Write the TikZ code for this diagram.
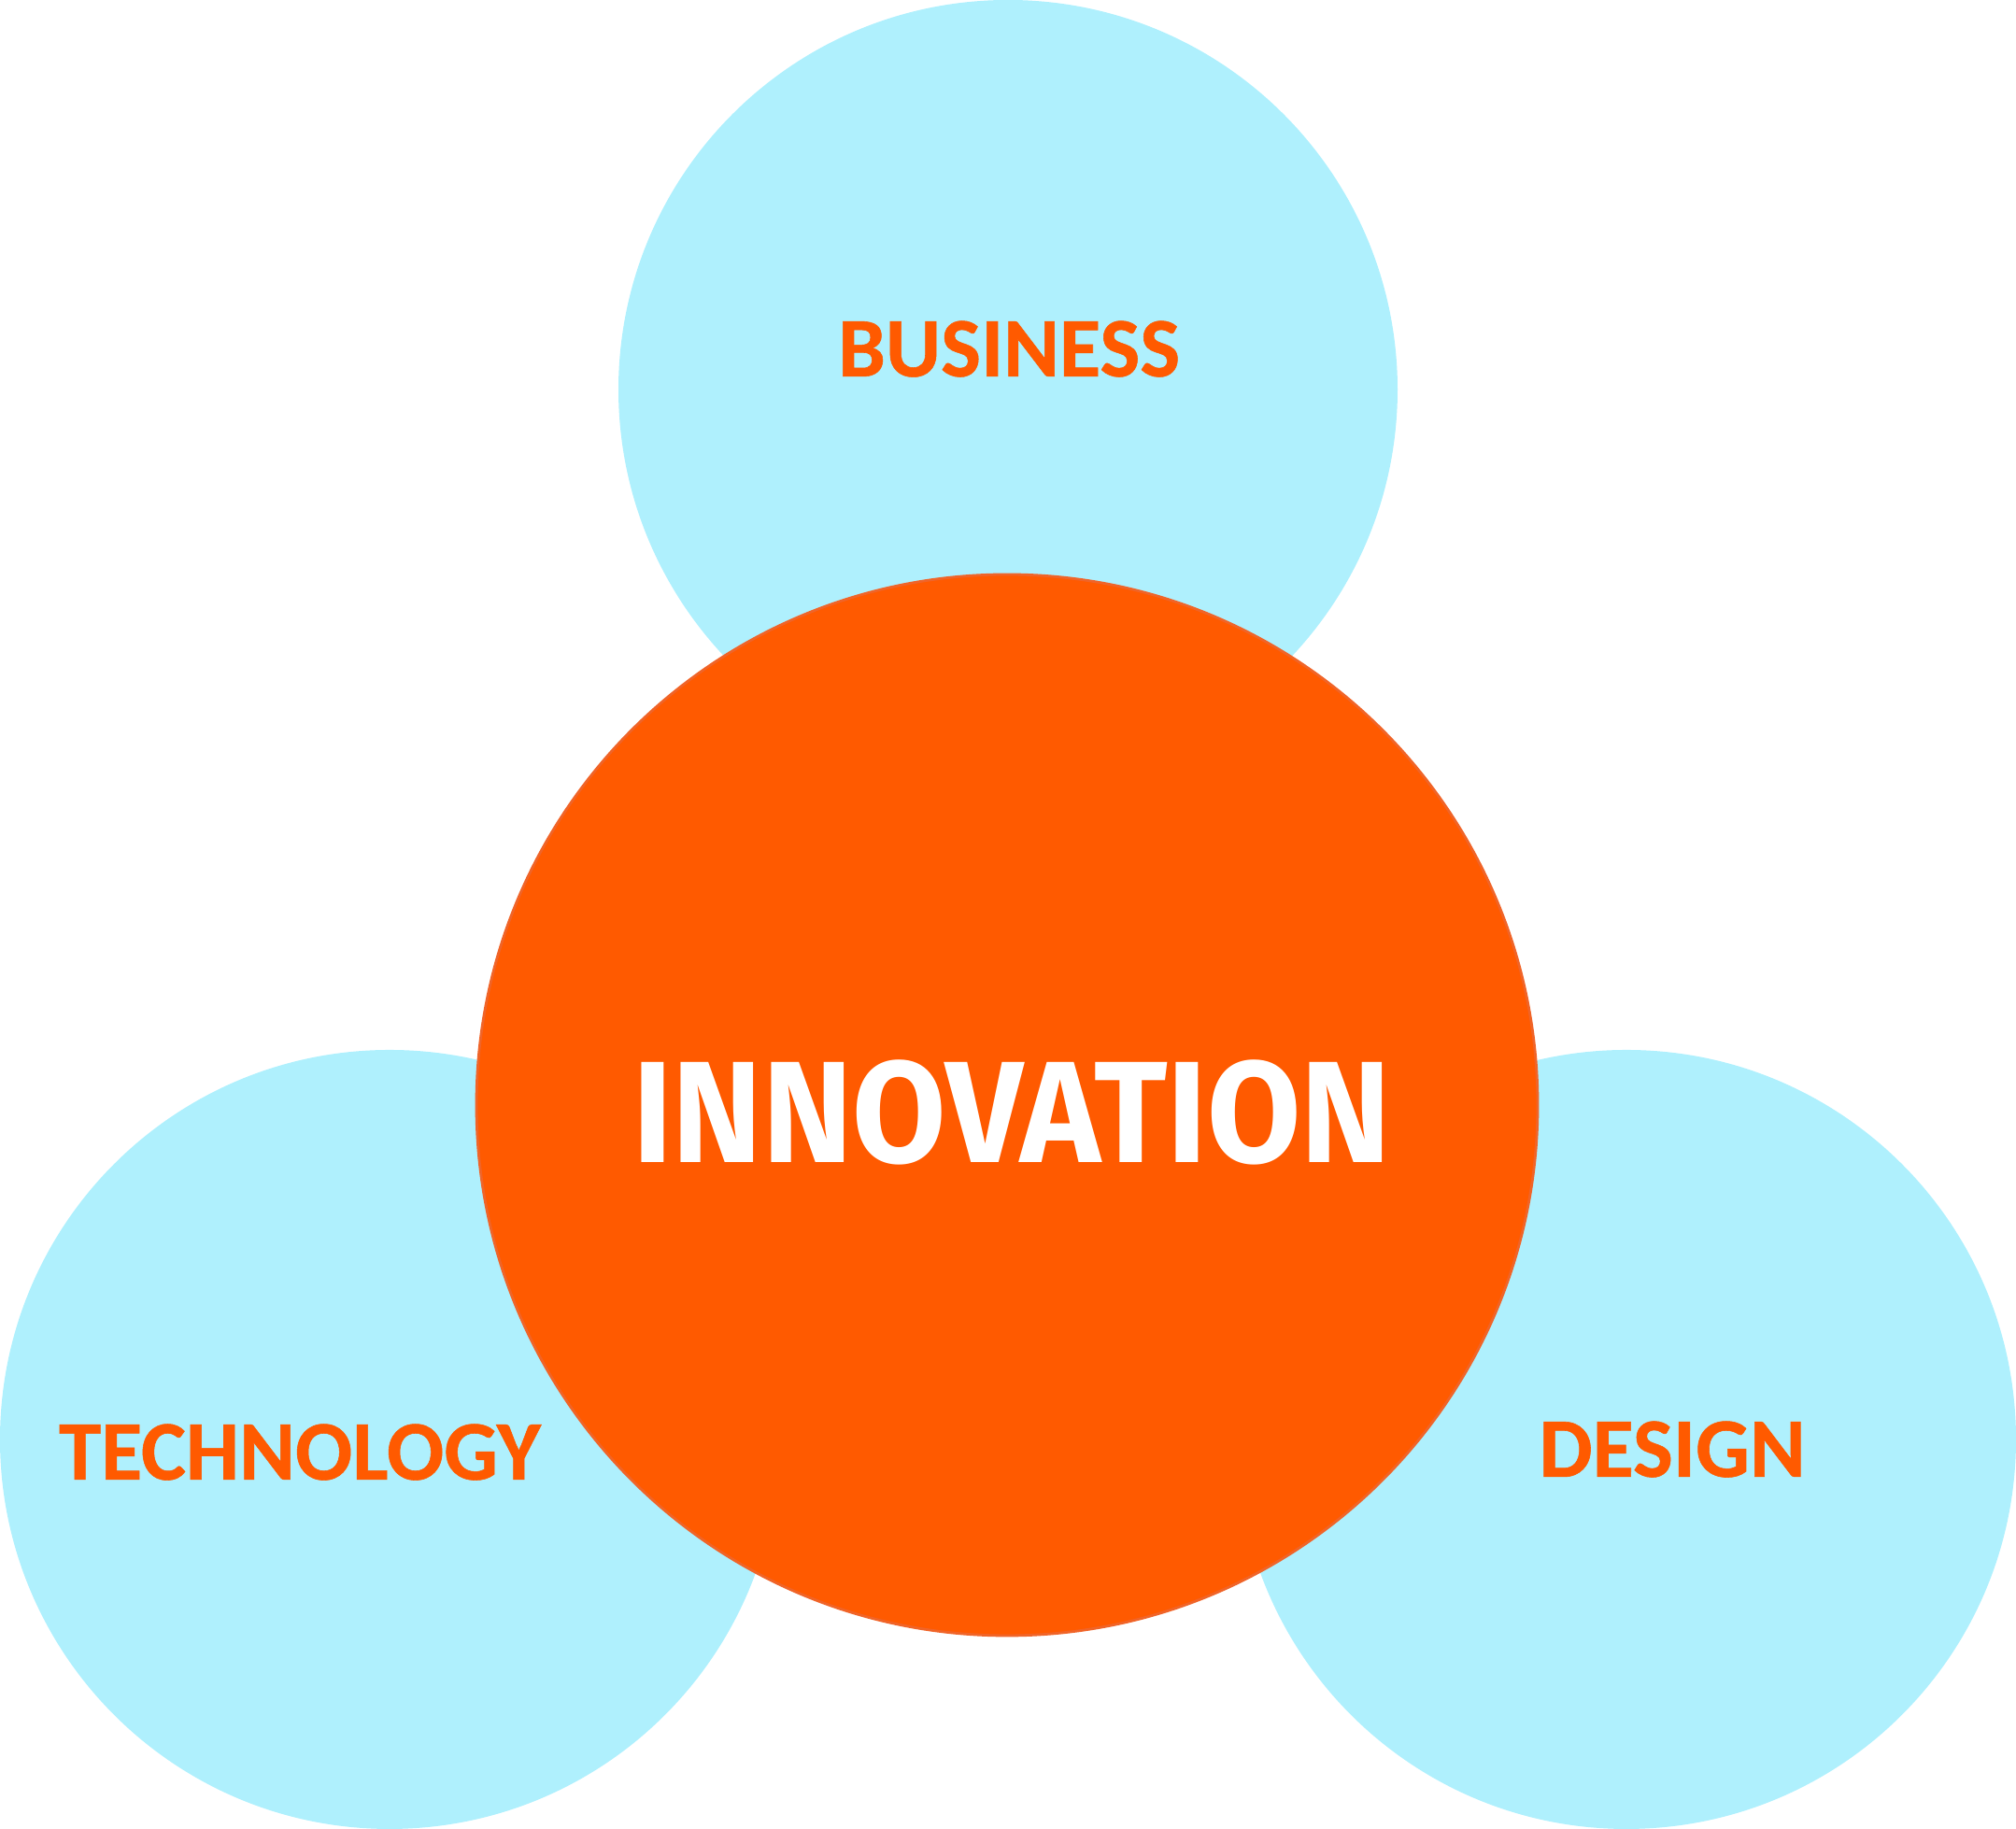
\documentclass[tikz,border=0pt]{standalone}
\usepackage{fontspec}
\setmainfont{Carlito}
\newfontfamily\labelfont{Carlito}[BoldFeatures={FakeBold=0.6}]
\newfontfamily\innofont{Fira Sans}
\definecolor{hellblau}{RGB}{175,240,253}
\definecolor{orangerot}{RGB}{255,90,0}
\definecolor{orangerand}{RGB}{240,100,40}
\tikzset{
	Feld/.style={circle,inner sep=0pt,fill=hellblau,minimum size=8.34cm}
}
\tikzset{
	Kern/.style={circle,inner sep=0pt,fill=orangerot,draw=orangerand,line width=0.8pt,minimum size=11.36cm}
}
\tikzset{
	Schrift/.style={anchor=base,inner sep=0pt,text=orangerot,font=\labelfont\fontsize{25.8}{30}\selectfont\bfseries}
}
\tikzset{
	Mitte/.style={anchor=base,inner sep=0pt,text=white,font=\innofont\fontsize{44}{50}\selectfont\bfseries}
}

\begin{document}
\begin{tikzpicture}
\useasboundingbox (0,0) rectangle (21.58,19.58);
%Kreise
\node[Feld] (business) at (10.79,15.41) {};
\node[Feld] (technology) at (4.17,4.17) {};
\node[Feld] (design) at (17.41,4.17) {};
\node[Kern] (innovation) at (10.78,7.75) {};

\node[Schrift] (txtbusiness) at (10.80,15.55) {BUSINESS};
\node[Schrift] (txttechnology) at (3.21,3.74) {TECHNOLOGY};
\node[Schrift] (txtdesign) at (17.90,3.77) {DESIGN};
\node[Mitte] (txtinnovation) at (10.83,7.13) {\scalebox{0.94}[1]{INNOVATION}};
\end{tikzpicture}
\end{document}
